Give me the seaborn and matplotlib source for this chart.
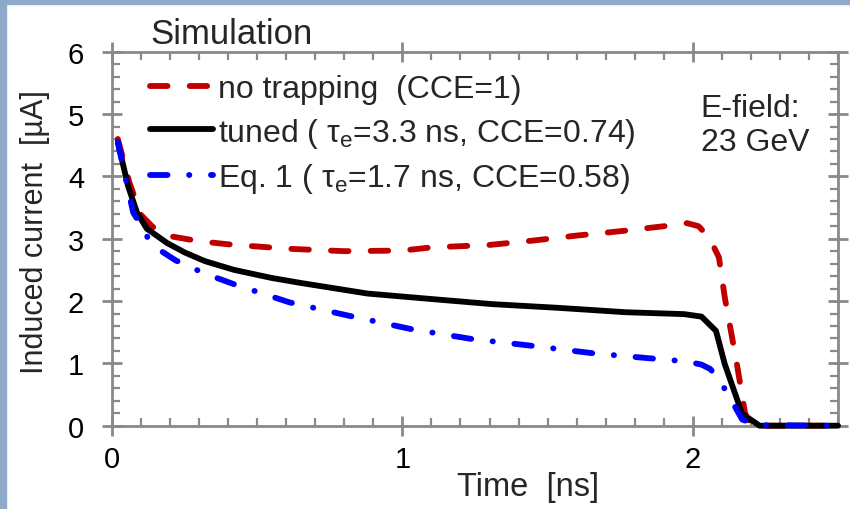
import numpy as np
import pandas as pd
import seaborn as sns
import matplotlib.pyplot as plt
from matplotlib.ticker import MultipleLocator
from matplotlib.patches import Rectangle

# data
t_red = [0.02, 0.06, 0.1, 0.14, 0.2, 0.3, 0.4, 0.6, 0.8, 1.0, 1.1, 1.3, 1.45, 1.6,
         1.75, 1.9, 1.98, 2.02, 2.05, 2.07, 2.09, 2.11, 2.15, 2.18, 2.2, 2.5]
i_red = [4.6, 3.9, 3.38, 3.19, 3.04, 2.96, 2.91, 2.84, 2.8, 2.81, 2.86, 2.9, 2.97, 3.05,
         3.12, 3.2, 3.25, 3.2, 3.05, 2.89, 2.7, 2.06, 1.04, 0.2, 0.0, 0.0]

t_black = [0.02, 0.055, 0.086, 0.12, 0.19, 0.25, 0.32, 0.42, 0.55, 0.65, 0.88, 1.08,
           1.31, 1.54, 1.77, 1.97, 2.03, 2.08, 2.11, 2.17, 2.23, 2.5]
i_black = [4.55, 3.85, 3.42, 3.16, 2.93, 2.78, 2.64, 2.5, 2.37, 2.29, 2.12, 2.04,
           1.95, 1.89, 1.82, 1.79, 1.75, 1.52, 0.99, 0.19, 0.0, 0.0]

t_blue = [0.02, 0.05, 0.073, 0.09, 0.125, 0.17, 0.22, 0.32, 0.42, 0.61, 0.81, 1.03,
          1.24, 1.45, 1.66, 1.88, 1.98, 2.03, 2.06, 2.09, 2.13, 2.17, 2.22, 2.5]
i_blue = [4.55, 3.9, 3.42, 3.29, 3.0, 2.8, 2.65, 2.44, 2.27, 1.98, 1.77, 1.55,
          1.39, 1.28, 1.16, 1.07, 1.03, 0.98, 0.91, 0.75, 0.43, 0.1, 0.01, 0.0]

labels = ["no trapping  (CCE=1)",
          r"tuned ( $\tau_e$=3.3 ns, CCE=0.74)",
          r"Eq. 1 ( $\tau_e$=1.7 ns, CCE=0.58)"]

sns.set_style("ticks")
plt.rcParams['font.family'] = ['Liberation Sans', 'DejaVu Sans']
plt.rcParams['mathtext.default'] = 'regular'

fig = plt.figure(figsize=(8.5, 5.1), dpi=100)
ax = fig.add_axes([112/850, 1-426.7/510, 726/850, 374/510])

# light frame on left and top
fig.patches.append(Rectangle((0, 0), 6/850, 1, transform=fig.transFigure,
                             color='#8FA9C8', zorder=-1))
fig.patches.append(Rectangle((0, 1-5/510), 1, 5/510, transform=fig.transFigure,
                             color='#8FA9C8', zorder=-1))

gray = '#898989'
lw = 4.2
sns.lineplot(x=t_red, y=i_red, ax=ax, color='#C00000', lw=lw, label=labels[0],
             linestyle=(0, (3.0, 3.8)), dash_capstyle='round', sort=False,
             estimator=None, clip_on=False, zorder=3)
sns.lineplot(x=t_black, y=i_black, ax=ax, color='black', lw=lw, label=labels[1],
             sort=False, estimator=None, clip_on=False, zorder=3)
sns.lineplot(x=t_blue, y=i_blue, ax=ax, color='#0000FF', lw=lw, label=labels[2],
             linestyle=(0, (3.0, 3.7, 0.05, 3.7)), dash_capstyle='round', sort=False,
             estimator=None, clip_on=False, zorder=3)

ax.set_xlim(0, 2.5)
ax.set_ylim(0, 6)
ax.xaxis.set_major_locator(MultipleLocator(1))
ax.xaxis.set_minor_locator(MultipleLocator(0.1))
ax.yaxis.set_major_locator(MultipleLocator(1))
ax.yaxis.set_minor_locator(MultipleLocator(0.2))

for s in ax.spines.values():
    s.set_color(gray)
    s.set_linewidth(2)
ax.tick_params(which='major', direction='inout', length=14, width=2, color=gray,
               top=True, right=True, labelsize=21, labelcolor='black')
ax.tick_params(which='minor', direction='in', length=6, width=1.6, color=gray,
               top=True, right=True)
ax.tick_params(axis='x', which='major', pad=7)
ax.tick_params(axis='y', which='major', pad=13)

ax.set_xlabel("Time  [ns]", fontsize=23.5, va='top')
ax.xaxis.set_label_coords(0.573, -0.121)
ax.set_ylabel("Induced current  [µA]", fontsize=22)
ax.yaxis.set_label_coords(-0.085, 0.52)

ax.legend(loc='upper left', bbox_to_anchor=(0.052, 0.94), frameon=False,
          fontsize=23, handlelength=1.97, handletextpad=0.16, borderpad=0,
          borderaxespad=0, labelspacing=0.36)

ax.text(0.811, 0.89, "E-field:\n23 GeV", transform=ax.transAxes, fontsize=23,
        va='top', ha='left')
fig.text(150/850, 1-44/510, "Simulation", fontsize=25, va='baseline', ha='left')

fig.savefig("out.png", dpi=100)
